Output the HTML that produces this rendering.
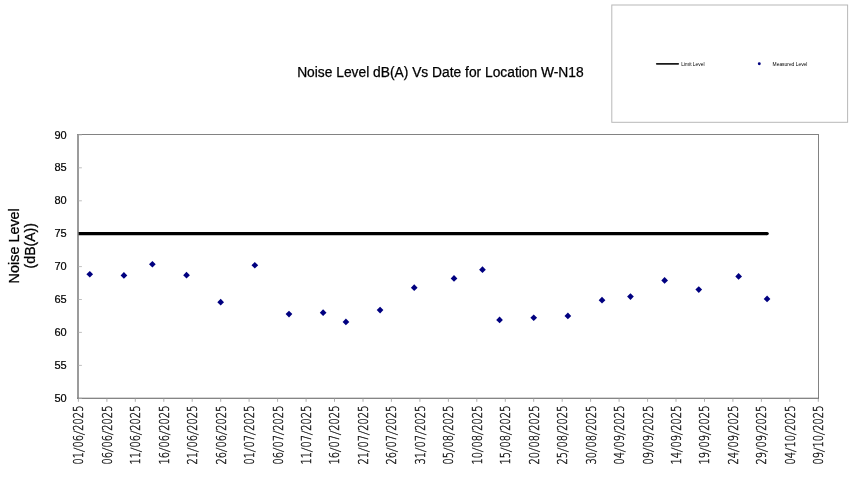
<!DOCTYPE html>
<html lang="en"><head><meta charset="utf-8"><title>Noise Level dB(A) Vs Date for Location W-N18</title>
<style>
html,body{margin:0;padding:0;background:#fff;}
body{width:850px;height:484px;overflow:hidden;}
svg{display:block;will-change:transform;}
text{font-family:"Liberation Sans",sans-serif;fill:#000;}
.xl{fill:#111;stroke:#111;stroke-width:0.42px;font-family:"DejaVu Sans","Liberation Sans",sans-serif;font-weight:200;font-size:14.2px;}
.yl{font-size:11px;text-anchor:end;stroke:#000;stroke-width:0.2px;}
</style></head><body>
<svg width="850" height="484" viewBox="0 0 850 484">
<rect x="0" y="0" width="850" height="484" fill="#fff"/>
<rect x="611.8" y="5" width="235.8" height="117.3" fill="#fff" stroke="#b8b8b8" stroke-width="1"/>
<line x1="656.8" y1="63.8" x2="678.2" y2="63.8" stroke="#1a1a1a" stroke-width="1.8" stroke-linecap="round"/>
<text x="681.2" y="65.6" font-size="4.9">Limit Level</text>
<circle cx="759.3" cy="63.8" r="1.45" fill="#000080"/>
<text x="772.6" y="65.6" font-size="4.9">Measured Level</text>
<text x="440.4" y="77.4" font-size="13.8" text-anchor="middle" stroke="#000" stroke-width="0.25">Noise Level dB(A) Vs Date for Location W-N18</text>
<text transform="translate(18.5,245.8) rotate(-90)" font-size="14.4" text-anchor="middle" stroke="#000" stroke-width="0.25">Noise Level</text>
<text transform="translate(35.2,245.7) rotate(-90)" font-size="14.1" text-anchor="middle" stroke="#000" stroke-width="0.25">(dB(A))</text>
<path d="M77.2 134.5 H819 M818.5 134 V398.8" stroke="#828282" stroke-width="1" fill="none"/>
<line x1="78.0" y1="134" x2="78.0" y2="398.8" stroke="#8a8a8a" stroke-width="1.7"/>
<line x1="77.2" y1="398.3" x2="819" y2="398.3" stroke="#5c5c5c" stroke-width="1.1"/>
<line x1="78.4" y1="398.3" x2="81.9" y2="398.3" stroke="#b0b0b0" stroke-width="0.8"/>
<text class="yl" x="66.7" y="401.9">50</text>
<line x1="78.4" y1="365.4" x2="81.9" y2="365.4" stroke="#b0b0b0" stroke-width="0.8"/>
<text class="yl" x="66.7" y="369.0">55</text>
<line x1="78.4" y1="332.4" x2="81.9" y2="332.4" stroke="#b0b0b0" stroke-width="0.8"/>
<text class="yl" x="66.7" y="336.1">60</text>
<line x1="78.4" y1="299.5" x2="81.9" y2="299.5" stroke="#b0b0b0" stroke-width="0.8"/>
<text class="yl" x="66.7" y="303.1">65</text>
<line x1="78.4" y1="266.6" x2="81.9" y2="266.6" stroke="#b0b0b0" stroke-width="0.8"/>
<text class="yl" x="66.7" y="270.2">70</text>
<line x1="78.4" y1="233.7" x2="81.9" y2="233.7" stroke="#b0b0b0" stroke-width="0.8"/>
<text class="yl" x="66.7" y="237.3">75</text>
<line x1="78.4" y1="200.8" x2="81.9" y2="200.8" stroke="#b0b0b0" stroke-width="0.8"/>
<text class="yl" x="66.7" y="204.3">80</text>
<line x1="78.4" y1="167.8" x2="81.9" y2="167.8" stroke="#b0b0b0" stroke-width="0.8"/>
<text class="yl" x="66.7" y="171.4">85</text>
<line x1="78.4" y1="134.9" x2="81.9" y2="134.9" stroke="#b0b0b0" stroke-width="0.8"/>
<text class="yl" x="66.7" y="138.5">90</text>
<line x1="78.4" y1="398.3" x2="78.4" y2="401.8" stroke="#9a9a9a" stroke-width="0.8"/>
<text class="xl" transform="translate(83.3,464.5) rotate(-90) scale(0.6943,1)" x="0.00 9.03 18.10 24.36 33.39 42.45 48.71 57.74 66.77 75.80" rotate="0 0 10 0 0 10 0 0 0 0">01/06/2025</text>
<line x1="106.9" y1="398.3" x2="106.9" y2="401.8" stroke="#9a9a9a" stroke-width="0.8"/>
<text class="xl" transform="translate(111.8,464.5) rotate(-90) scale(0.6943,1)" x="0.00 9.03 18.10 24.36 33.39 42.45 48.71 57.74 66.77 75.80" rotate="0 0 10 0 0 10 0 0 0 0">06/06/2025</text>
<line x1="135.3" y1="398.3" x2="135.3" y2="401.8" stroke="#9a9a9a" stroke-width="0.8"/>
<text class="xl" transform="translate(140.2,464.5) rotate(-90) scale(0.6943,1)" x="0.00 9.03 18.10 24.36 33.39 42.45 48.71 57.74 66.77 75.80" rotate="0 0 10 0 0 10 0 0 0 0">11/06/2025</text>
<line x1="163.8" y1="398.3" x2="163.8" y2="401.8" stroke="#9a9a9a" stroke-width="0.8"/>
<text class="xl" transform="translate(168.7,464.5) rotate(-90) scale(0.6943,1)" x="0.00 9.03 18.10 24.36 33.39 42.45 48.71 57.74 66.77 75.80" rotate="0 0 10 0 0 10 0 0 0 0">16/06/2025</text>
<line x1="192.2" y1="398.3" x2="192.2" y2="401.8" stroke="#9a9a9a" stroke-width="0.8"/>
<text class="xl" transform="translate(197.1,464.5) rotate(-90) scale(0.6943,1)" x="0.00 9.03 18.10 24.36 33.39 42.45 48.71 57.74 66.77 75.80" rotate="0 0 10 0 0 10 0 0 0 0">21/06/2025</text>
<line x1="220.7" y1="398.3" x2="220.7" y2="401.8" stroke="#9a9a9a" stroke-width="0.8"/>
<text class="xl" transform="translate(225.6,464.5) rotate(-90) scale(0.6943,1)" x="0.00 9.03 18.10 24.36 33.39 42.45 48.71 57.74 66.77 75.80" rotate="0 0 10 0 0 10 0 0 0 0">26/06/2025</text>
<line x1="249.1" y1="398.3" x2="249.1" y2="401.8" stroke="#9a9a9a" stroke-width="0.8"/>
<text class="xl" transform="translate(254.0,464.5) rotate(-90) scale(0.6943,1)" x="0.00 9.03 18.10 24.36 33.39 42.45 48.71 57.74 66.77 75.80" rotate="0 0 10 0 0 10 0 0 0 0">01/07/2025</text>
<line x1="277.6" y1="398.3" x2="277.6" y2="401.8" stroke="#9a9a9a" stroke-width="0.8"/>
<text class="xl" transform="translate(282.5,464.5) rotate(-90) scale(0.6943,1)" x="0.00 9.03 18.10 24.36 33.39 42.45 48.71 57.74 66.77 75.80" rotate="0 0 10 0 0 10 0 0 0 0">06/07/2025</text>
<line x1="306.1" y1="398.3" x2="306.1" y2="401.8" stroke="#9a9a9a" stroke-width="0.8"/>
<text class="xl" transform="translate(311.0,464.5) rotate(-90) scale(0.6943,1)" x="0.00 9.03 18.10 24.36 33.39 42.45 48.71 57.74 66.77 75.80" rotate="0 0 10 0 0 10 0 0 0 0">11/07/2025</text>
<line x1="334.5" y1="398.3" x2="334.5" y2="401.8" stroke="#9a9a9a" stroke-width="0.8"/>
<text class="xl" transform="translate(339.4,464.5) rotate(-90) scale(0.6943,1)" x="0.00 9.03 18.10 24.36 33.39 42.45 48.71 57.74 66.77 75.80" rotate="0 0 10 0 0 10 0 0 0 0">16/07/2025</text>
<line x1="363.0" y1="398.3" x2="363.0" y2="401.8" stroke="#9a9a9a" stroke-width="0.8"/>
<text class="xl" transform="translate(367.9,464.5) rotate(-90) scale(0.6943,1)" x="0.00 9.03 18.10 24.36 33.39 42.45 48.71 57.74 66.77 75.80" rotate="0 0 10 0 0 10 0 0 0 0">21/07/2025</text>
<line x1="391.4" y1="398.3" x2="391.4" y2="401.8" stroke="#9a9a9a" stroke-width="0.8"/>
<text class="xl" transform="translate(396.3,464.5) rotate(-90) scale(0.6943,1)" x="0.00 9.03 18.10 24.36 33.39 42.45 48.71 57.74 66.77 75.80" rotate="0 0 10 0 0 10 0 0 0 0">26/07/2025</text>
<line x1="419.9" y1="398.3" x2="419.9" y2="401.8" stroke="#9a9a9a" stroke-width="0.8"/>
<text class="xl" transform="translate(424.8,464.5) rotate(-90) scale(0.6943,1)" x="0.00 9.03 18.10 24.36 33.39 42.45 48.71 57.74 66.77 75.80" rotate="0 0 10 0 0 10 0 0 0 0">31/07/2025</text>
<line x1="448.4" y1="398.3" x2="448.4" y2="401.8" stroke="#9a9a9a" stroke-width="0.8"/>
<text class="xl" transform="translate(453.2,464.5) rotate(-90) scale(0.6943,1)" x="0.00 9.03 18.10 24.36 33.39 42.45 48.71 57.74 66.77 75.80" rotate="0 0 10 0 0 10 0 0 0 0">05/08/2025</text>
<line x1="476.8" y1="398.3" x2="476.8" y2="401.8" stroke="#9a9a9a" stroke-width="0.8"/>
<text class="xl" transform="translate(481.7,464.5) rotate(-90) scale(0.6943,1)" x="0.00 9.03 18.10 24.36 33.39 42.45 48.71 57.74 66.77 75.80" rotate="0 0 10 0 0 10 0 0 0 0">10/08/2025</text>
<line x1="505.3" y1="398.3" x2="505.3" y2="401.8" stroke="#9a9a9a" stroke-width="0.8"/>
<text class="xl" transform="translate(510.2,464.5) rotate(-90) scale(0.6943,1)" x="0.00 9.03 18.10 24.36 33.39 42.45 48.71 57.74 66.77 75.80" rotate="0 0 10 0 0 10 0 0 0 0">15/08/2025</text>
<line x1="533.7" y1="398.3" x2="533.7" y2="401.8" stroke="#9a9a9a" stroke-width="0.8"/>
<text class="xl" transform="translate(538.6,464.5) rotate(-90) scale(0.6943,1)" x="0.00 9.03 18.10 24.36 33.39 42.45 48.71 57.74 66.77 75.80" rotate="0 0 10 0 0 10 0 0 0 0">20/08/2025</text>
<line x1="562.2" y1="398.3" x2="562.2" y2="401.8" stroke="#9a9a9a" stroke-width="0.8"/>
<text class="xl" transform="translate(567.1,464.5) rotate(-90) scale(0.6943,1)" x="0.00 9.03 18.10 24.36 33.39 42.45 48.71 57.74 66.77 75.80" rotate="0 0 10 0 0 10 0 0 0 0">25/08/2025</text>
<line x1="590.6" y1="398.3" x2="590.6" y2="401.8" stroke="#9a9a9a" stroke-width="0.8"/>
<text class="xl" transform="translate(595.5,464.5) rotate(-90) scale(0.6943,1)" x="0.00 9.03 18.10 24.36 33.39 42.45 48.71 57.74 66.77 75.80" rotate="0 0 10 0 0 10 0 0 0 0">30/08/2025</text>
<line x1="619.1" y1="398.3" x2="619.1" y2="401.8" stroke="#9a9a9a" stroke-width="0.8"/>
<text class="xl" transform="translate(624.0,464.5) rotate(-90) scale(0.6943,1)" x="0.00 9.03 18.10 24.36 33.39 42.45 48.71 57.74 66.77 75.80" rotate="0 0 10 0 0 10 0 0 0 0">04/09/2025</text>
<line x1="647.6" y1="398.3" x2="647.6" y2="401.8" stroke="#9a9a9a" stroke-width="0.8"/>
<text class="xl" transform="translate(652.5,464.5) rotate(-90) scale(0.6943,1)" x="0.00 9.03 18.10 24.36 33.39 42.45 48.71 57.74 66.77 75.80" rotate="0 0 10 0 0 10 0 0 0 0">09/09/2025</text>
<line x1="676.0" y1="398.3" x2="676.0" y2="401.8" stroke="#9a9a9a" stroke-width="0.8"/>
<text class="xl" transform="translate(680.9,464.5) rotate(-90) scale(0.6943,1)" x="0.00 9.03 18.10 24.36 33.39 42.45 48.71 57.74 66.77 75.80" rotate="0 0 10 0 0 10 0 0 0 0">14/09/2025</text>
<line x1="704.5" y1="398.3" x2="704.5" y2="401.8" stroke="#9a9a9a" stroke-width="0.8"/>
<text class="xl" transform="translate(709.4,464.5) rotate(-90) scale(0.6943,1)" x="0.00 9.03 18.10 24.36 33.39 42.45 48.71 57.74 66.77 75.80" rotate="0 0 10 0 0 10 0 0 0 0">19/09/2025</text>
<line x1="732.9" y1="398.3" x2="732.9" y2="401.8" stroke="#9a9a9a" stroke-width="0.8"/>
<text class="xl" transform="translate(737.8,464.5) rotate(-90) scale(0.6943,1)" x="0.00 9.03 18.10 24.36 33.39 42.45 48.71 57.74 66.77 75.80" rotate="0 0 10 0 0 10 0 0 0 0">24/09/2025</text>
<line x1="761.4" y1="398.3" x2="761.4" y2="401.8" stroke="#9a9a9a" stroke-width="0.8"/>
<text class="xl" transform="translate(766.3,464.5) rotate(-90) scale(0.6943,1)" x="0.00 9.03 18.10 24.36 33.39 42.45 48.71 57.74 66.77 75.80" rotate="0 0 10 0 0 10 0 0 0 0">29/09/2025</text>
<line x1="789.8" y1="398.3" x2="789.8" y2="401.8" stroke="#9a9a9a" stroke-width="0.8"/>
<text class="xl" transform="translate(794.7,464.5) rotate(-90) scale(0.6943,1)" x="0.00 9.03 18.10 24.36 33.39 42.45 48.71 57.74 66.77 75.80" rotate="0 0 10 0 0 10 0 0 0 0">04/10/2025</text>
<line x1="818.3" y1="398.3" x2="818.3" y2="401.8" stroke="#9a9a9a" stroke-width="0.8"/>
<text class="xl" transform="translate(823.2,464.5) rotate(-90) scale(0.6943,1)" x="0.00 9.03 18.10 24.36 33.39 42.45 48.71 57.74 66.77 75.80" rotate="0 0 10 0 0 10 0 0 0 0">09/10/2025</text>
<path d="M78.6 233.6 H767.1" stroke="#000" stroke-width="3.4" fill="none"/><circle cx="767.1" cy="233.6" r="1.7" fill="#000"/>
<path d="M89.8 270.9 L93.1 274.2 L89.8 277.6 L86.4 274.2Z" fill="#000080"/>
<path d="M123.9 272.1 L127.3 275.4 L123.9 278.8 L120.6 275.4Z" fill="#000080"/>
<path d="M152.4 260.9 L155.7 264.2 L152.4 267.6 L149.0 264.2Z" fill="#000080"/>
<path d="M186.5 271.8 L189.9 275.2 L186.5 278.5 L183.2 275.2Z" fill="#000080"/>
<path d="M220.7 298.8 L224.0 302.2 L220.7 305.5 L217.3 302.2Z" fill="#000080"/>
<path d="M254.8 261.9 L258.2 265.3 L254.8 268.6 L251.5 265.3Z" fill="#000080"/>
<path d="M289.0 310.7 L292.3 314.0 L289.0 317.4 L285.6 314.0Z" fill="#000080"/>
<path d="M323.1 309.3 L326.5 312.7 L323.1 316.0 L319.8 312.7Z" fill="#000080"/>
<path d="M345.9 318.6 L349.3 321.9 L345.9 325.3 L342.6 321.9Z" fill="#000080"/>
<path d="M380.1 306.7 L383.4 310.1 L380.1 313.4 L376.7 310.1Z" fill="#000080"/>
<path d="M414.2 284.3 L417.6 287.7 L414.2 291.0 L410.9 287.7Z" fill="#000080"/>
<path d="M454.0 275.1 L457.4 278.5 L454.0 281.8 L450.7 278.5Z" fill="#000080"/>
<path d="M482.5 266.3 L485.8 269.7 L482.5 273.0 L479.1 269.7Z" fill="#000080"/>
<path d="M499.6 316.6 L502.9 319.9 L499.6 323.3 L496.2 319.9Z" fill="#000080"/>
<path d="M533.7 314.4 L537.1 317.8 L533.7 321.1 L530.4 317.8Z" fill="#000080"/>
<path d="M567.9 312.6 L571.2 316.0 L567.9 319.3 L564.5 316.0Z" fill="#000080"/>
<path d="M602.0 296.8 L605.4 300.2 L602.0 303.5 L598.7 300.2Z" fill="#000080"/>
<path d="M630.5 293.3 L633.8 296.6 L630.5 300.0 L627.1 296.6Z" fill="#000080"/>
<path d="M664.6 277.1 L668.0 280.4 L664.6 283.8 L661.3 280.4Z" fill="#000080"/>
<path d="M698.8 286.3 L702.1 289.6 L698.8 293.0 L695.4 289.6Z" fill="#000080"/>
<path d="M738.6 273.1 L742.0 276.5 L738.6 279.8 L735.3 276.5Z" fill="#000080"/>
<path d="M767.1 295.5 L770.4 298.9 L767.1 302.2 L763.7 298.9Z" fill="#000080"/>
</svg>
</body></html>
